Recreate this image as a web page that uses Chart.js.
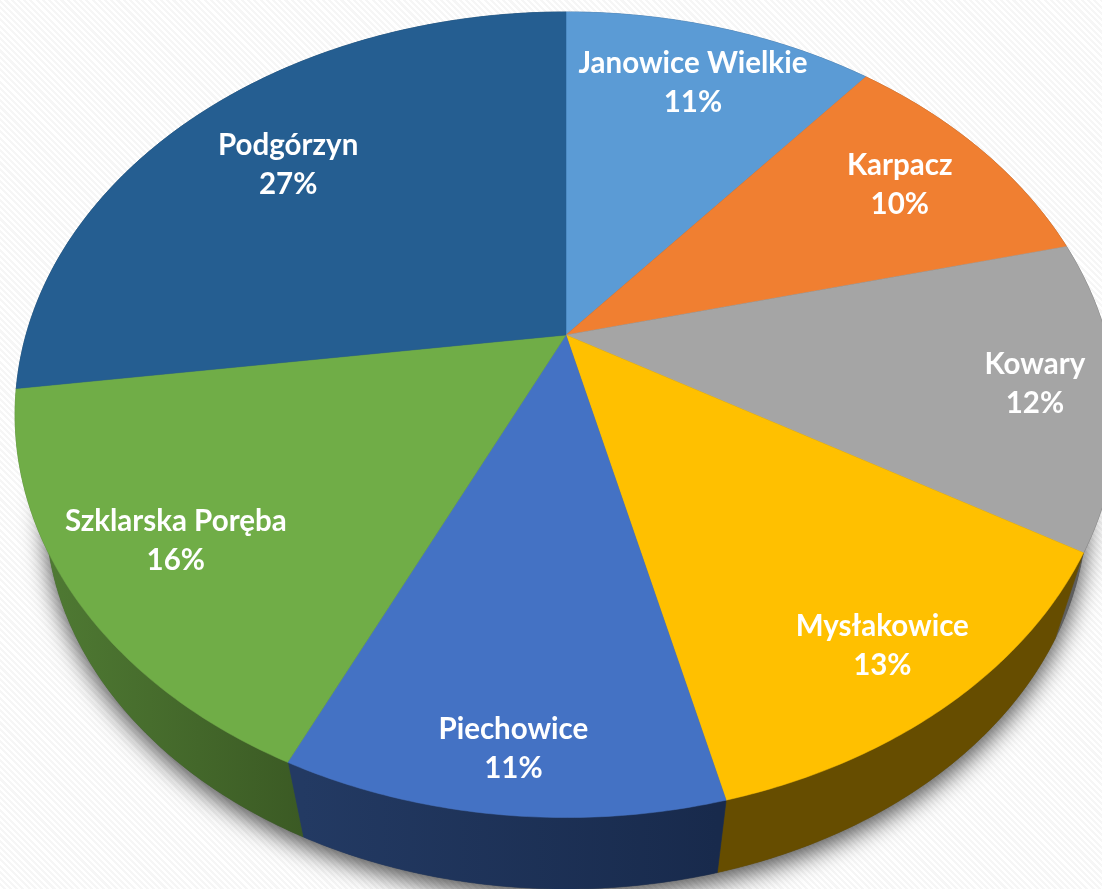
<!DOCTYPE html>
<html>
<head>
<meta charset="utf-8">
<style>
html,body{margin:0;padding:0;width:1102px;height:889px;overflow:hidden;background:#fff;}
body{background:repeating-linear-gradient(45deg,#ffffff 0,#ffffff 2.2px,#f6f6f6 2.2px,#f6f6f6 4.4px);}
canvas{display:block;}
</style>
<script src="https://cdn.jsdelivr.net/npm/chart.js@4/dist/chart.umd.js"></script>
</head>
<body>
<canvas id="c" width="1102" height="889"></canvas>
<script>
const categories = ['Janowice Wielkie','Karpacz','Kowary','Mysłakowice','Piechowice','Szklarska Poręba','Podgórzyn'];
const shares = [11.05,10.1,12.3,12.7,10.8,15.9,27.15];
const percentLabels = ['11%','10%','12%','13%','11%','16%','27%'];
const topColors = ['#5B9BD5','#F07F31','#A5A5A5','#FFC000','#4472C4','#70AD47','#255E91'];
const wallStart = ['#37618a','#96501f','#666666','#664D00','#233A63','#4F7A33','#1a4163'];
const wallEnd = ['#37618a','#96501f','#5a5a5a','#664D00','#182A4C','#3B5A24','#1a4163'];
const labelRadius = [0.8,0.796,0.856,0.856,0.883,0.808,0.738];
const labelNudge = [[-1,-1],[-2.5,-1],[0,-2],[-3.5,2],[3.5,0],[-2,-1],[-4,-1]];

// perspective view of the pie disc
const view = {cx:566, cy:335, A:540, B:387, q:0.198, wallScale:0.945, wallCy:433};
function project(a, r){
  const u = r*Math.cos(a), v = r*Math.sin(a), d = 1 - view.q*v;
  return {x:view.cx + view.A*u/d, y:view.cy + view.B*v/d};
}
function lower(p){
  return {x:view.cx + view.wallScale*(p.x-view.cx), y:view.wallCy + view.wallScale*(p.y-view.cy)};
}
function arcPoints(a0, a1){
  const n = Math.max(2, Math.ceil((a1-a0)/0.01)), pts = [];
  for(let i=0;i<=n;i++) pts.push(project(a0+(a1-a0)*i/n, 1));
  return pts;
}

const perspectivePie = {
  id:'perspectivePie',
  beforeDatasetsDraw(chart){
    const ctx = chart.ctx, arcs = chart.getDatasetMeta(0).data;
    const angles = arcs.map(e => e.getProps(['startAngle','endAngle'],true));
    // soft shadow under the whole body
    ctx.save();
    ctx.shadowColor = 'rgba(0,0,0,0.7)';
    ctx.shadowBlur = 24;
    ctx.shadowOffsetX = 0;
    ctx.shadowOffsetY = 8;
    ctx.fillStyle = '#444';
    ctx.beginPath();
    arcPoints(-Math.PI/2, 3*Math.PI/2).map(lower).forEach((p,i)=> i?ctx.lineTo(p.x,p.y):ctx.moveTo(p.x,p.y));
    ctx.closePath();
    ctx.fill();
    ctx.restore();
    // side walls
    arcs.forEach((e,i)=>{
      const {startAngle,endAngle} = angles[i];
      const top = arcPoints(startAngle,endAngle), bot = top.map(lower);
      const xs = bot.map(p=>p.x);
      const g = ctx.createLinearGradient(Math.min(...xs),0,Math.max(...xs),0);
      g.addColorStop(0,wallStart[i]); g.addColorStop(1,wallEnd[i]);
      ctx.beginPath();
      top.forEach((p,k)=> k?ctx.lineTo(p.x,p.y):ctx.moveTo(p.x,p.y));
      bot.reverse().forEach(p=>ctx.lineTo(p.x,p.y));
      ctx.closePath();
      ctx.fillStyle = g; ctx.strokeStyle = g; ctx.lineWidth = 0.6;
      ctx.fill(); ctx.stroke();
    });
    // top surface
    arcs.forEach((e,i)=>{
      const {startAngle,endAngle} = angles[i];
      ctx.beginPath();
      ctx.moveTo(view.cx,view.cy);
      arcPoints(startAngle,endAngle).forEach(p=>ctx.lineTo(p.x,p.y));
      ctx.closePath();
      ctx.fillStyle = e.options.backgroundColor;
      ctx.strokeStyle = e.options.backgroundColor; ctx.lineWidth = 0.5;
      ctx.fill(); ctx.stroke();
    });
    // labels
    ctx.save();
    ctx.fillStyle = '#fff';
    ctx.font = 'bold 29.5px Lato';
    ctx.textAlign = 'center';
    ctx.textBaseline = 'middle';
    arcs.forEach((e,i)=>{
      const {startAngle,endAngle} = angles[i];
      const p = project((startAngle+endAngle)/2, labelRadius[i]);
      const x = p.x + labelNudge[i][0], y = p.y + labelNudge[i][1];
      ctx.fillText(categories[i], x, y-17.5);
      ctx.fillText(percentLabels[i], x, y+21.5);
    });
    ctx.restore();
    return false;
  }
};

new Chart(document.getElementById('c'),{
  type:'pie',
  data:{labels:categories,datasets:[{data:shares,backgroundColor:topColors,borderWidth:0}]},
  options:{
    responsive:false,animation:false,rotation:0,
    plugins:{legend:{display:false},tooltip:{enabled:false},title:{display:false}}
  },
  plugins:[perspectivePie]
});
</script>
</body>
</html>
